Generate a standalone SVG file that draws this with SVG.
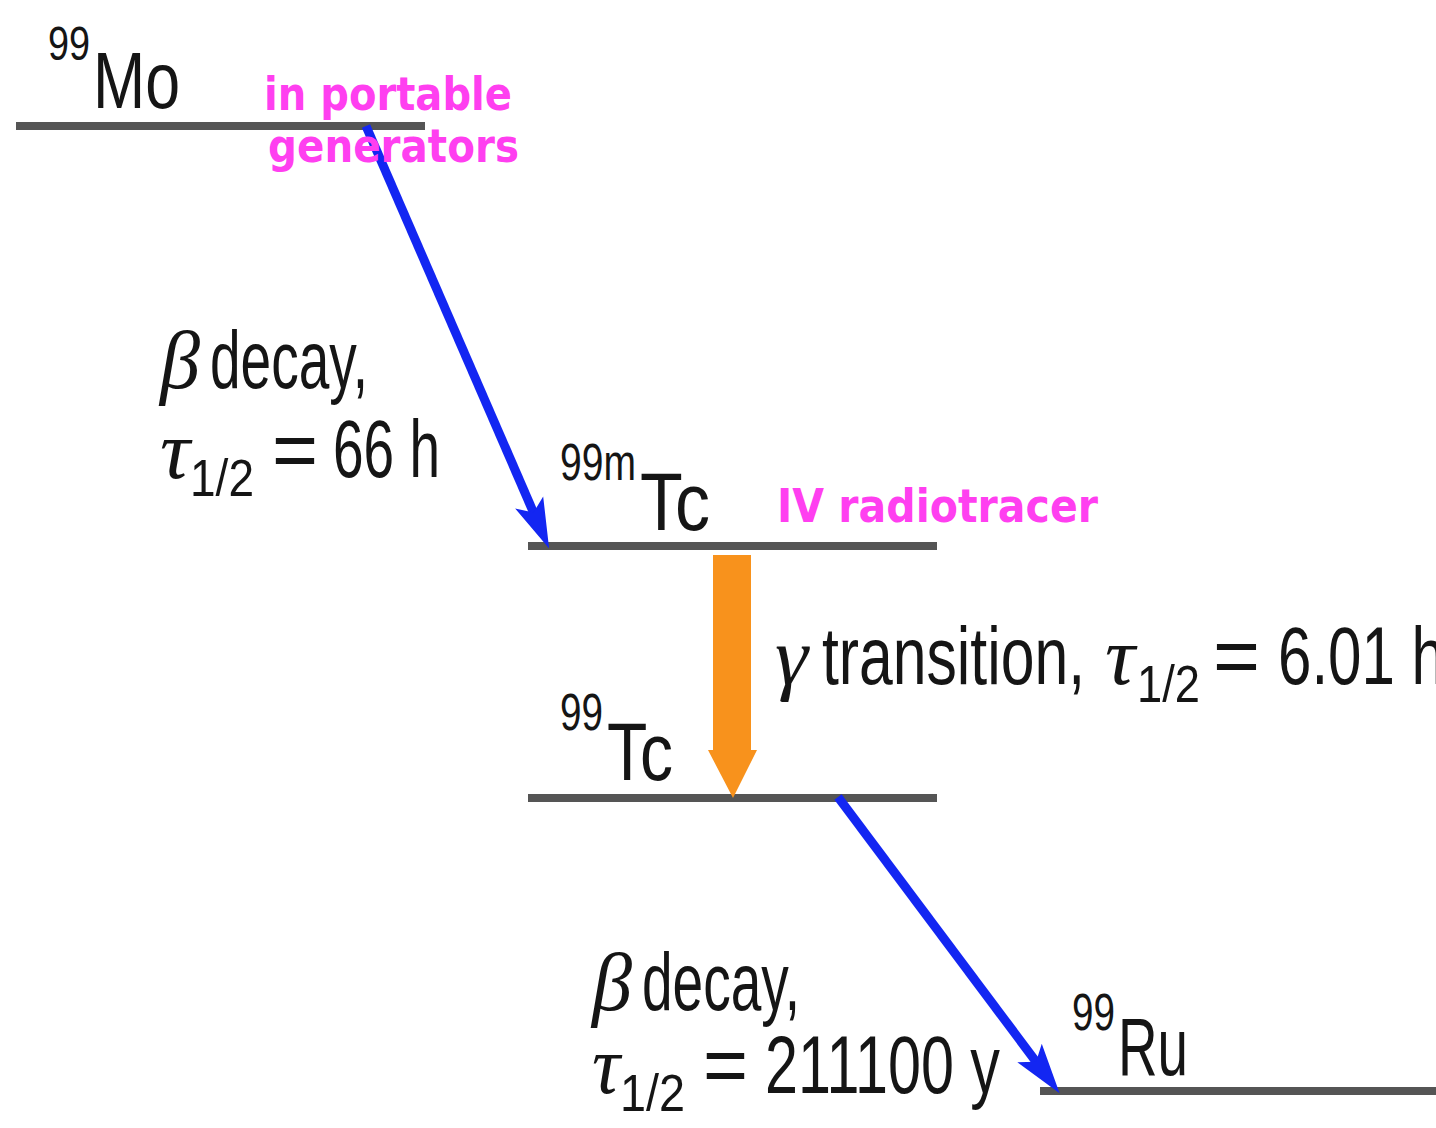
<svg xmlns="http://www.w3.org/2000/svg" width="1436" height="1128" viewBox="0 0 1436 1128">
<style>
.lvl{stroke:#555;stroke-width:8;fill:none}
.t{font-family:"Liberation Sans",Arial,sans-serif;fill:#151515}
.g{font-family:"Liberation Serif","DejaVu Serif",serif;font-style:italic;fill:#151515}
.pk{font-family:"DejaVu Sans","Liberation Sans",sans-serif;font-weight:bold;fill:#ff3ff0}
.beta{stroke:#1326f2;stroke-width:9;fill:none;marker-end:url(#bh)}
</style>
<defs>
<marker id="bh" markerUnits="userSpaceOnUse" markerWidth="60" markerHeight="40" viewBox="-20 -15 55 30" refX="0" refY="0" orient="auto">
<path d="M30,0 L-16,-14 L-6,0 L-16,14 Z" fill="#1326f2"/>
</marker>
</defs>
<rect width="1436" height="1128" fill="#fff"/>

<g id="mo99">
<line class="lvl" x1="16" y1="126" x2="425" y2="126"/>
<text class="t" x="48" y="60" font-size="48" textLength="42" lengthAdjust="spacingAndGlyphs">99</text>
<text class="t" x="93" y="108" font-size="80" textLength="87" lengthAdjust="spacingAndGlyphs">Mo</text>
</g>

<g id="tc99m">
<line class="lvl" x1="528" y1="546" x2="937" y2="546"/>
<text class="t" x="560" y="480" font-size="52" textLength="76" lengthAdjust="spacingAndGlyphs">99m</text>
<text class="t" x="640" y="530" font-size="82" textLength="70" lengthAdjust="spacingAndGlyphs">Tc</text>
</g>

<g id="tc99">
<line class="lvl" x1="528" y1="798" x2="937" y2="798"/>
<text class="t" x="560" y="730" font-size="52" textLength="43" lengthAdjust="spacingAndGlyphs">99</text>
<text class="t" x="607" y="780" font-size="82" textLength="66" lengthAdjust="spacingAndGlyphs">Tc</text>
</g>

<g id="ru99">
<line class="lvl" x1="1040" y1="1091" x2="1436" y2="1091"/>
<text class="t" x="1072" y="1030" font-size="52" textLength="43" lengthAdjust="spacingAndGlyphs">99</text>
<text class="t" x="1118" y="1075" font-size="82" textLength="70" lengthAdjust="spacingAndGlyphs">Ru</text>
</g>

<g id="connectors">
<line class="beta" x1="366" y1="126" x2="536.1" y2="518.5"/>
<line class="beta" x1="838" y1="797" x2="1040" y2="1067"/>
<path d="M713,555 H751 V750 H757 L733,798 L708,750 H713 Z" fill="#f8921c"/>
</g>

<g id="labels">
<text class="pk" x="264" y="110" font-size="46" textLength="248" lengthAdjust="spacingAndGlyphs">in portable</text>
<text class="pk" x="268" y="162" font-size="46" textLength="251" lengthAdjust="spacingAndGlyphs">generators</text>
<text class="pk" x="777" y="522" font-size="46" textLength="321" lengthAdjust="spacingAndGlyphs">IV radiotracer</text>

<text class="g" x="160" y="388" font-size="82" textLength="40" lengthAdjust="spacingAndGlyphs">β</text>
<text class="t" x="210" y="388" font-size="82" textLength="158" lengthAdjust="spacingAndGlyphs">decay,</text>
<text class="g" x="160" y="478" font-size="82" textLength="30" lengthAdjust="spacingAndGlyphs">τ</text>
<text class="t" x="190" y="496" font-size="52" textLength="64" lengthAdjust="spacingAndGlyphs">1/2</text>
<text class="t" x="272" y="478" font-size="82" textLength="46" lengthAdjust="spacingAndGlyphs">=</text>
<text class="t" x="333" y="477" font-size="82" textLength="107" lengthAdjust="spacingAndGlyphs">66 h</text>

<text class="g" x="775" y="684" font-size="82" textLength="33" lengthAdjust="spacingAndGlyphs">γ</text>
<text class="t" x="822" y="684" font-size="82" textLength="263" lengthAdjust="spacingAndGlyphs">transition,</text>
<text class="g" x="1105" y="684" font-size="82" textLength="30" lengthAdjust="spacingAndGlyphs">τ</text>
<text class="t" x="1137" y="702" font-size="52" textLength="63" lengthAdjust="spacingAndGlyphs">1/2</text>
<text class="t" x="1213" y="684" font-size="82" textLength="47" lengthAdjust="spacingAndGlyphs">=</text>
<text class="t" x="1278" y="684" font-size="82" textLength="167" lengthAdjust="spacingAndGlyphs">6.01 h</text>

<text class="g" x="592" y="1010" font-size="82" textLength="40" lengthAdjust="spacingAndGlyphs">β</text>
<text class="t" x="642" y="1010" font-size="82" textLength="158" lengthAdjust="spacingAndGlyphs">decay,</text>
<text class="g" x="592" y="1093" font-size="82" textLength="28" lengthAdjust="spacingAndGlyphs">τ</text>
<text class="t" x="620" y="1111" font-size="52" textLength="65" lengthAdjust="spacingAndGlyphs">1/2</text>
<text class="t" x="703" y="1093" font-size="82" textLength="45" lengthAdjust="spacingAndGlyphs">=</text>
<text class="t" x="765" y="1093" font-size="82" textLength="235" lengthAdjust="spacingAndGlyphs">211100 y</text>
</g>
</svg>
